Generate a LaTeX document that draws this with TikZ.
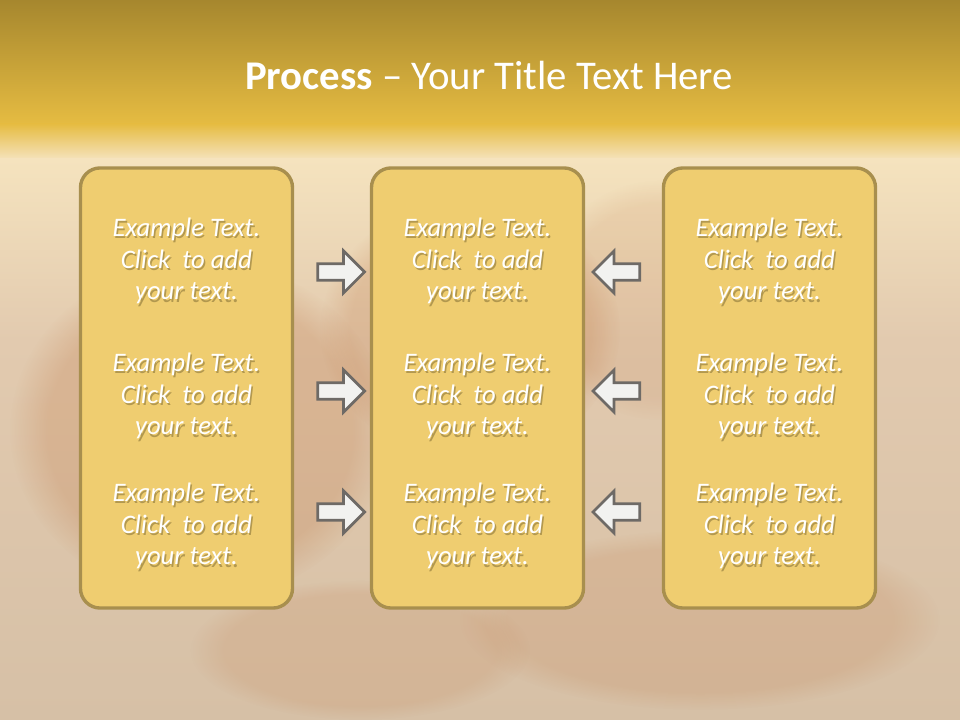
\documentclass[tikz,border=0pt]{standalone}
\usepackage{fontspec}
\setmainfont{Carlito}
\usepackage{xcolor}
\definecolor{cTopDark}{HTML}{A6872E}
\definecolor{cTopLight}{HTML}{E6BC42}
\definecolor{cCream}{HTML}{F5E3BE}
\definecolor{cBack}{HTML}{E2CAAF}
\definecolor{cBackLow}{HTML}{D6C0A6}
\definecolor{cBlob}{HTML}{B8642A}
\definecolor{cBox}{HTML}{EFCD70}
\definecolor{cBoxLine}{HTML}{A88F4E}
\definecolor{cArrow}{HTML}{F2F2F0}
\definecolor{cArrowLine}{HTML}{6E6A66}
\usepackage{tikz}
\usetikzlibrary{positioning,shapes.arrows,fadings}
\tikzset{
  node-col/.style={draw=cBoxLine,line width=2.4pt,fill=cBox,rounded corners=14pt,
    minimum width=5.3cm,minimum height=11cm},
  node-txt/.style={text=white,align=center,font=\fontsize{19}{22.6}\selectfont\itshape},
  node-shadow/.style={node-txt,text=cTopDark!40!black,opacity=0.35},
  node-arrow/.style={single arrow,draw=cArrowLine,line width=2pt,fill=cArrow,
    inner xsep=0pt,inner ysep=0.17cm,minimum height=1.17cm,
    single arrow head extend=0.32cm,single arrow tip angle=90},
  node-arrow-l/.style={node-arrow,shape border rotate=180},
  blob/.style={fill=cBlob,opacity=#1,path fading=circle with fuzzy edge 20 percent},
}

\begin{document}
\begin{tikzpicture}[x=0.025cm,y=-0.025cm]
  % background
  \useasboundingbox (0,0) rectangle (960,720);
  \fill[top color=cTopDark,bottom color=cTopLight] (0,0) rectangle (960,125);
  \fill[top color=cTopLight,bottom color=cCream] (0,124) rectangle (960,160);
  \fill[top color=cCream,bottom color=cBack] (0,159) rectangle (960,340);
  \fill[top color=cBack,bottom color=cBackLow] (0,339) rectangle (960,720);
  \fill[blob=0.2] (200,430) ellipse (190 and 170);
  \fill[blob=0.18] (470,330) ellipse (150 and 130);
  \fill[blob=0.14] (700,620) ellipse (240 and 90);
  \fill[blob=0.12] (360,650) ellipse (170 and 70);
  \fill[blob=0.1] (660,300) ellipse (120 and 120);

  % title
  \node[text=white,font=\fontsize{29}{34}\selectfont] (title) at (489,75)
    {\textbf{Process} -- Your Title Text Here};

  % columns
  \node[node-col] (c1) at (186.5,388) {};
  \node[node-col] (c2) at (477.5,388) {};
  \node[node-col] (c3) at (769.5,388) {};

  % texts, with their shadow
  \foreach \cx/\cn in {186.5/a,477.5/b,769.5/c}
    \foreach \cy/\rn in {261/1,396/2,526/3} {
      \node[node-shadow] at (\cx+1.5,\cy+2.5)
        {Example Text.\\Click~ to add\\your text.};
      \node[node-txt] (t\cn\rn) at (\cx,\cy)
        {Example Text.\\Click~ to add\\your text.};
    }

  % arrows
  \node[node-arrow]   (r1) at (337,272) {};
  \node[node-arrow]   (r2) at (337,391) {};
  \node[node-arrow]   (r3) at (337,512) {};
  \node[node-arrow-l] (l1) at (620.5,272) {};
  \node[node-arrow-l] (l2) at (620.5,391) {};
  \node[node-arrow-l] (l3) at (620.5,512) {};
\end{tikzpicture}
\end{document}
